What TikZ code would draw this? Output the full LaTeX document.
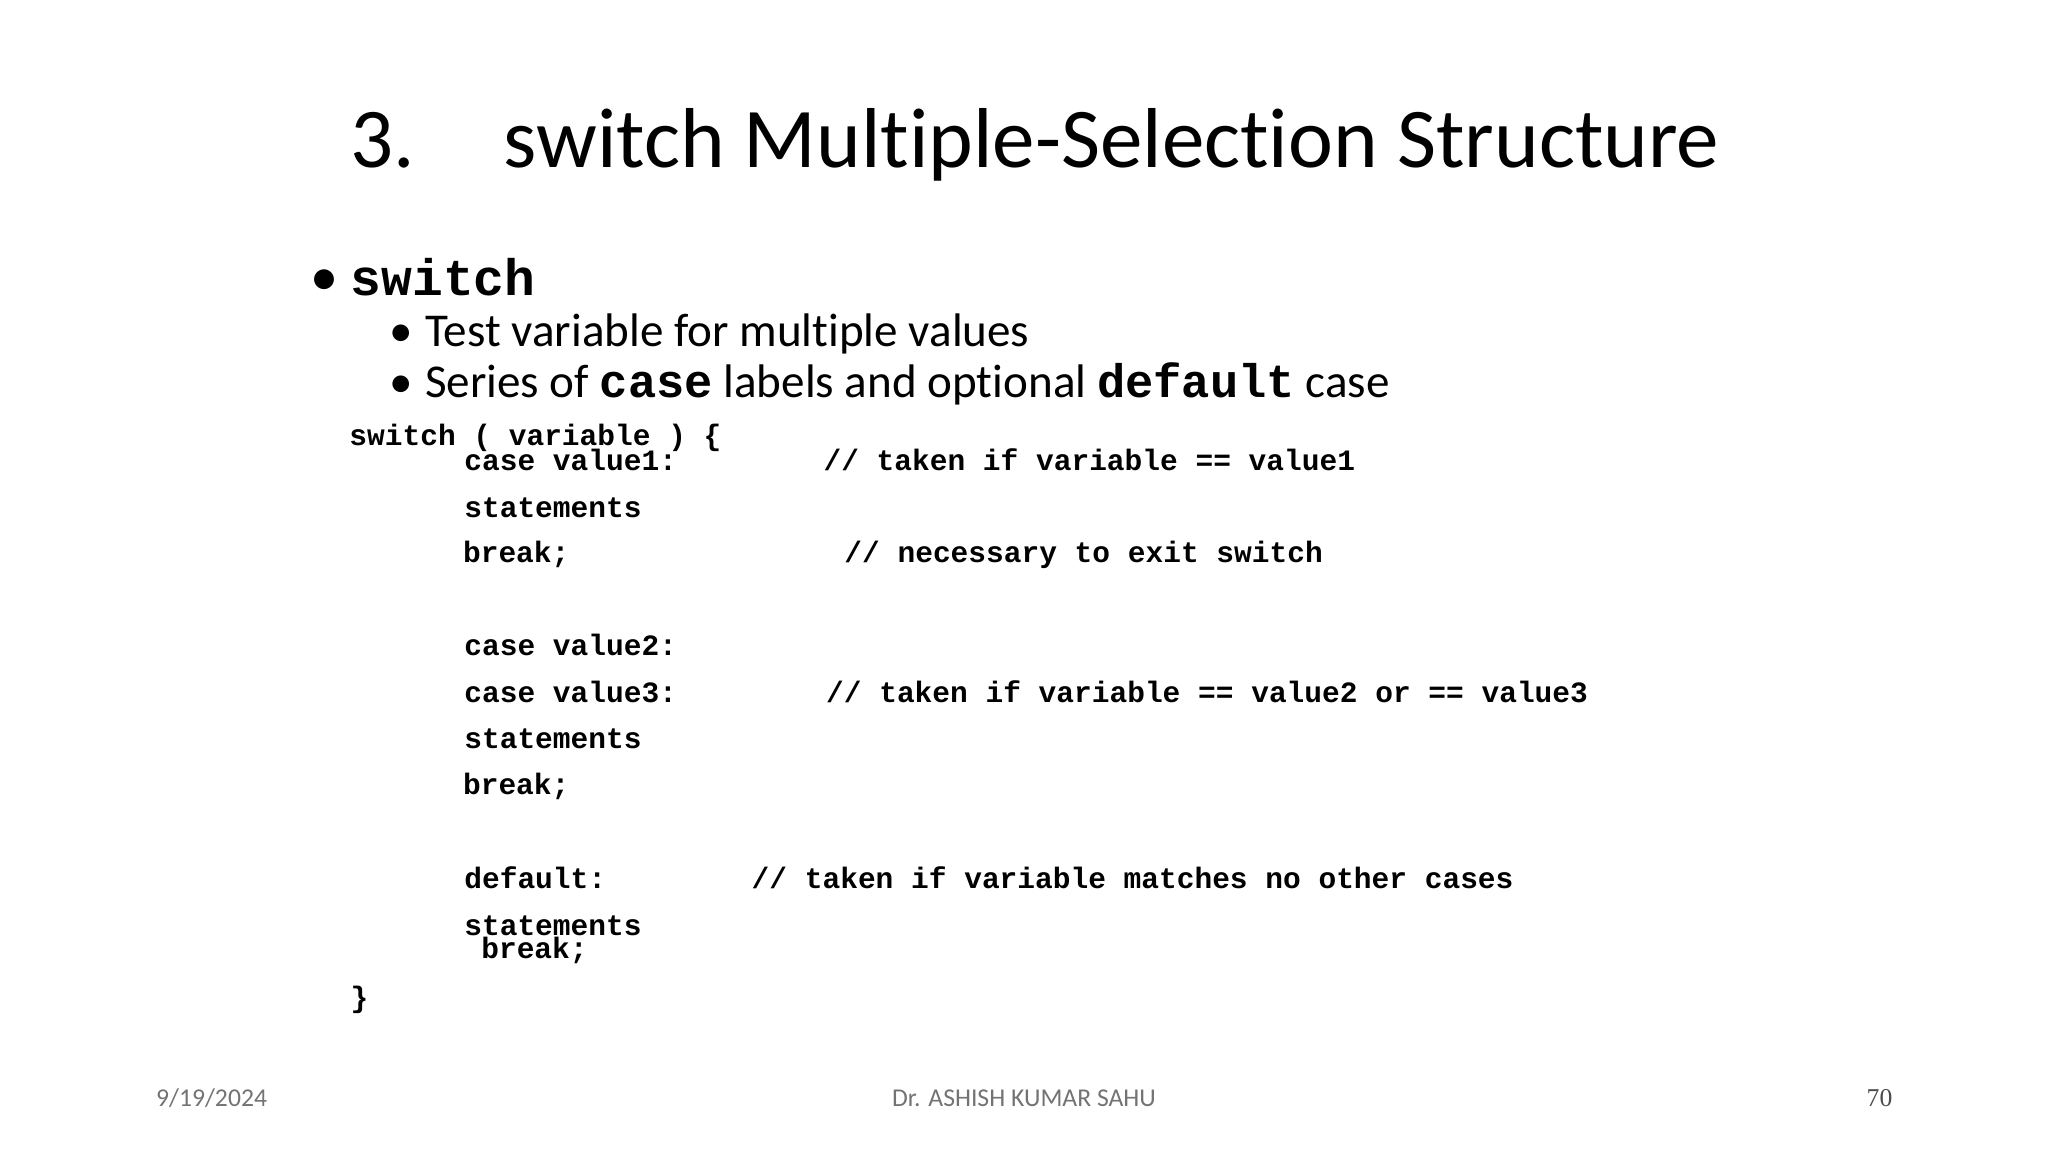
\documentclass[tikz,border=0pt]{standalone}
\usepackage{fontspec}
\setmainfont{Carlito}[Ligatures=NoCommon]
\setmonofont{Liberation Mono}
\newfontfamily\pagefont{Liberation Serif}
\usetikzlibrary{positioning}

\tikzset{
  title/.style={anchor=base west,inner sep=0pt,font=\fontsize{24.2}{28}\selectfont},
  bullet/.style={anchor=base west,inner sep=0pt,font=\fontsize{13.4}{16}\selectfont},
  code/.style={anchor=base west,inner sep=0pt,font=\fontsize{8.4}{10}\ttfamily\bfseries},
  footer/.style={anchor=base,inner sep=0pt,font=\fontsize{7.3}{9}\selectfont,text=black!55}
}

\begin{document}
\begin{tikzpicture}[x=0.01306cm,y=-0.01306cm]
  \useasboundingbox (0,0) rectangle (1568,882);

  % heading
  \node[title] (num) at (268,128) {3.};
  \node[title] (head) at (385,128) {switch Multiple-Selection Structure};

  % bullets
  \node[bullet] (b1) at (237,226) {\fontsize{16}{20}\selectfont\textbullet};
  \node[bullet] (sw) at (268,226) {\fontsize{14.6}{20}\selectfont\ttfamily\bfseries switch};
  \node[bullet] (b2) at (298,265) {\textbullet};
  \node[bullet] (t2) at (325,265) {Test variable for multiple values};
  \node[bullet] (b3) at (298,304) {\textbullet};
  \node[bullet] (t3) at (325,304) {Series of \texttt{\bfseries case} labels and optional \texttt{\bfseries default} case};

  % code listing
  \node[code] (c0) at (267,341) {switch ( variable ) \{};
  \node[code] (c1) at (355,360) {case value1:};
  \node[code] (m1) at (630,360) {// taken if variable == value1};
  \node[code] (c2) at (355,396) {statements};
  \node[code] (c3) at (354,431) {break;};
  \node[code] (m3) at (646,431) {// necessary to exit switch};
  \node[code] (c4) at (355,502) {case value2:};
  \node[code] (c5) at (355,538) {case value3:};
  \node[code] (m5) at (632,538) {// taken if variable == value2 or == value3};
  \node[code] (c6) at (355,573) {statements};
  \node[code] (c7) at (354,608) {break;};
  \node[code] (c8) at (355,680) {default:};
  \node[code] (m8) at (575,680) {// taken if variable matches no other cases};
  \node[code] (c9) at (355,716) {statements};
  \node[code] (c10) at (368,734) {break;};
  \node[code] (c11) at (268,771) {\}};

  % footer
  \node[footer] (date) at (162,847) {9/19/2024};
  \node[footer] (auth) at (784,847) {Dr. ASHISH KUMAR SAHU};
  \node[footer,font=\fontsize{7.3}{9}\pagefont,text=black!70] (page) at (1439,847) {70};
\end{tikzpicture}
\end{document}
